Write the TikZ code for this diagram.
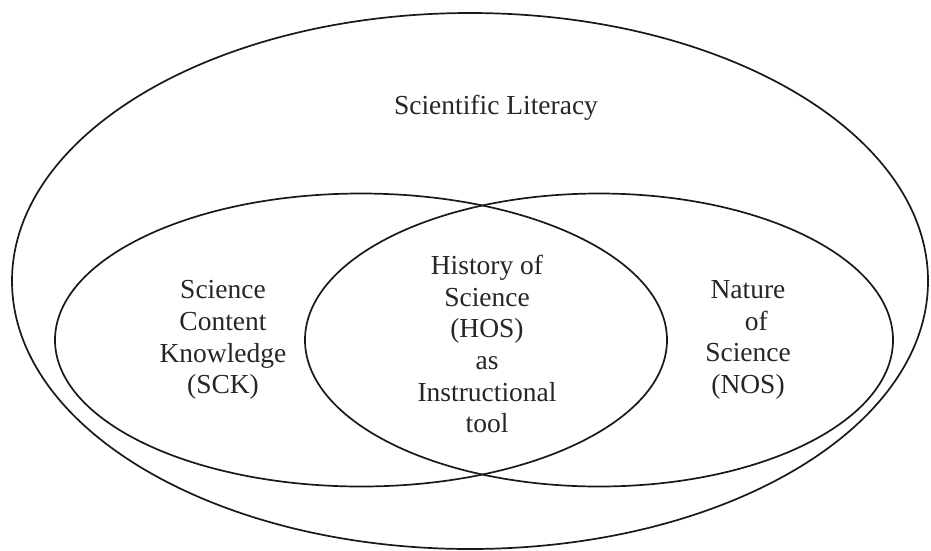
\documentclass[tikz,border=0pt]{standalone}
\usepackage{fontspec}
\setmainfont{Liberation Serif}
\usetikzlibrary{shapes.geometric}
\begin{document}
\begin{tikzpicture}[x=1pt,y=-1pt,
  ring/.style={draw=black!90, line width=1.7pt, ellipse, inner sep=0pt, outer sep=0pt},
  lbl/.style={align=center, inner sep=0pt, font=\fontsize{27.5}{31.7}\selectfont, text=black!85}]
\useasboundingbox[fill=white] (0,0) rectangle (931,550);
\node[ring, minimum width=916pt, minimum height=536pt] (outer) at (470,281) {};
\node[ring, minimum width=612pt, minimum height=293pt] (sck) at (361,340) {};
\node[ring, minimum width=588pt, minimum height=293pt] (nos) at (599,340) {};
\node[lbl] (sl) at (496,108) {Scientific Literacy};
\node[lbl] (tsck) at (223,340) {Science\\Content\\Knowledge\\(SCK)};
\node[lbl] (tnos) at (748,340) {Nature\\\hspace{0.6em}of\\Science\\(NOS)};
\node[lbl] (thos) at (487,344) {History of\\Science\\(HOS)\\as\\Instructional\\tool};
\end{tikzpicture}
\end{document}
